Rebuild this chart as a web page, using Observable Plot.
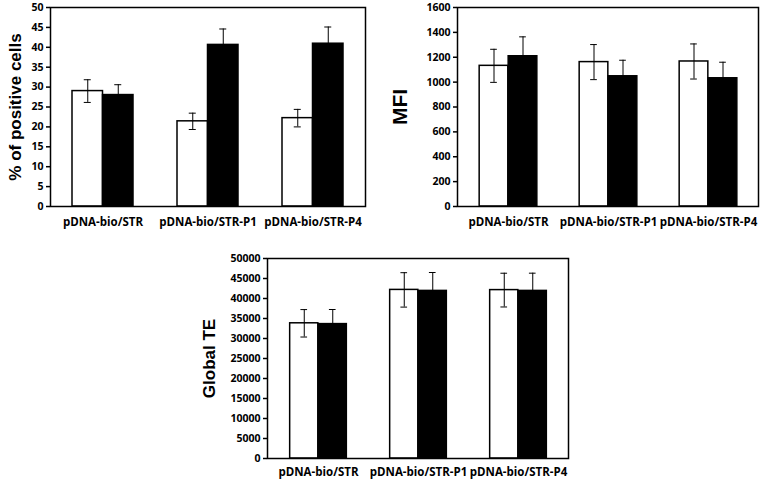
<!DOCTYPE html>
<html><head><meta charset="utf-8">
<script src="https://cdn.jsdelivr.net/npm/d3@7"></script>
<script src="https://cdn.jsdelivr.net/npm/@observablehq/plot@0.6"></script>
<style>
body{margin:0;background:#fff;}
#wrap{position:relative;width:767px;height:485px;background:#fff;overflow:hidden;}
.panel{position:absolute;}
</style></head><body><div id="wrap"></div>
<script>
const categories = ["pDNA-bio/STR", "pDNA-bio/STR-P1", "pDNA-bio/STR-P4"];

const pctWhite    = [29.0, 21.4, 22.2];
const pctWhiteErr = [2.85, 2.05, 2.2];
const pctBlack    = [28.0, 40.6, 40.9];
const pctBlackErr = [2.6, 4.0, 4.2];

const mfiWhite    = [1131, 1161, 1166];
const mfiWhiteErr = [133, 141, 141];
const mfiBlack    = [1208, 1047, 1031];
const mfiBlackErr = [156, 129, 129];

const teWhite    = [33800, 42150, 42100];
const teWhiteErr = [3430, 4300, 4220];
const teBlack    = [33600, 41900, 41900];
const teBlackErr = [3650, 4600, 4430];

const pctTicks = d3.range(0, 55, 5);
const mfiTicks = d3.range(0, 1800, 200);
const teTicks  = d3.range(0, 55000, 5000);

function panel(o) {
  const rows = categories.flatMap((c, i) => [
    {cat: c, s: "white", v: o.white[i], e: o.whiteErr[i]},
    {cat: c, s: "black", v: o.black[i], e: o.blackErr[i]}
  ]);
  const W = rows.filter(d => d.s === "white"), B = rows.filter(d => d.s === "black");
  const step = (o.width - o.m[0] - o.m[1]) / categories.length;
  const bw = o.barW, side = (step - 2 * bw) / 2, cap = 3.5;
  const font = "'Open Sans', sans-serif";
  const chart = Plot.plot({
    width: o.width, height: o.height,
    marginLeft: o.m[0], marginRight: o.m[1], marginTop: o.m[2], marginBottom: o.m[3],
    style: {fontFamily: font, color: "black", background: "white", overflow: "visible"},
    x: {domain: categories, padding: 0, axis: null},
    y: {domain: [0, o.ticks[o.ticks.length - 1]], axis: null},
    marks: [
      Plot.barY(W, {x: "cat", y: "v", fill: "white", stroke: "black", strokeWidth: 1.5, insetLeft: side, insetRight: side + bw}),
      Plot.barY(B, {x: "cat", y: "v", fill: "black", stroke: "black", strokeWidth: 1.5, insetLeft: side + bw, insetRight: side}),
      Plot.ruleX(W, {x: "cat", y1: d => d.v - d.e, y2: d => d.v + d.e, dx: -bw / 2, stroke: "black", strokeWidth: 1}),
      Plot.ruleX(B, {x: "cat", y1: d => d.v - d.e, y2: d => d.v + d.e, dx: bw / 2, stroke: "black", strokeWidth: 1}),
      Plot.tickY(W, {x: "cat", y: d => d.v + d.e, insetLeft: step / 2 - bw / 2 - cap, insetRight: step / 2 + bw / 2 - cap, stroke: "black", strokeWidth: 1}),
      Plot.tickY(W, {x: "cat", y: d => d.v - d.e, insetLeft: step / 2 - bw / 2 - cap, insetRight: step / 2 + bw / 2 - cap, stroke: "black", strokeWidth: 1}),
      Plot.tickY(B, {x: "cat", y: d => d.v + d.e, insetLeft: step / 2 + bw / 2 - cap, insetRight: step / 2 - bw / 2 - cap, stroke: "black", strokeWidth: 1}),
      Plot.frame({stroke: "black", strokeWidth: 1.5}),
      Plot.axisY({ticks: o.ticks, tickFormat: "d", tickSize: 4, tickPadding: 3, fontSize: 10.5, fontWeight: "bold", label: null, strokeWidth: 1.5}),
      Plot.axisX({tickSize: 0, tickPadding: o.xPad, fontSize: 11.5, fontWeight: "bold", label: null}),
      Plot.text([o.title], {text: d => d, frameAnchor: "left", rotate: -90, textAnchor: "middle", dx: o.titleDx,
        fontSize: o.titleSize, fontWeight: "bold", fontFamily: "'Liberation Sans', Arial, sans-serif"})
    ]
  });
  chart.classList.add("panel");
  chart.style.left = o.left + "px";
  chart.style.top = o.top + "px";
  document.getElementById("wrap").appendChild(chart);
}

panel({white: pctWhite, whiteErr: pctWhiteErr, black: pctBlack, blackErr: pctBlackErr, ticks: pctTicks,
  title: "% of positive cells", titleSize: 17, titleDx: -35,
  width: 370, height: 230, m: [50, 5, 7, 24], barW: 30.5, left: 0, top: 0, xPad: 11});

panel({white: mfiWhite, whiteErr: mfiWhiteErr, black: mfiBlack, blackErr: mfiBlackErr, ticks: mfiTicks,
  title: "MFI", titleSize: 21, titleDx: -57,
  width: 387, height: 230, m: [77, 9, 7, 24], barW: 29, left: 380, top: 0, xPad: 11});

panel({white: teWhite, whiteErr: teWhiteErr, black: teBlack, blackErr: teBlackErr, ticks: teTicks,
  title: "Global TE", titleSize: 17, titleDx: -58,
  width: 420, height: 245, m: [77, 42, 18, 27], barW: 28.5, left: 190, top: 240, xPad: 9});
</script></body></html>
